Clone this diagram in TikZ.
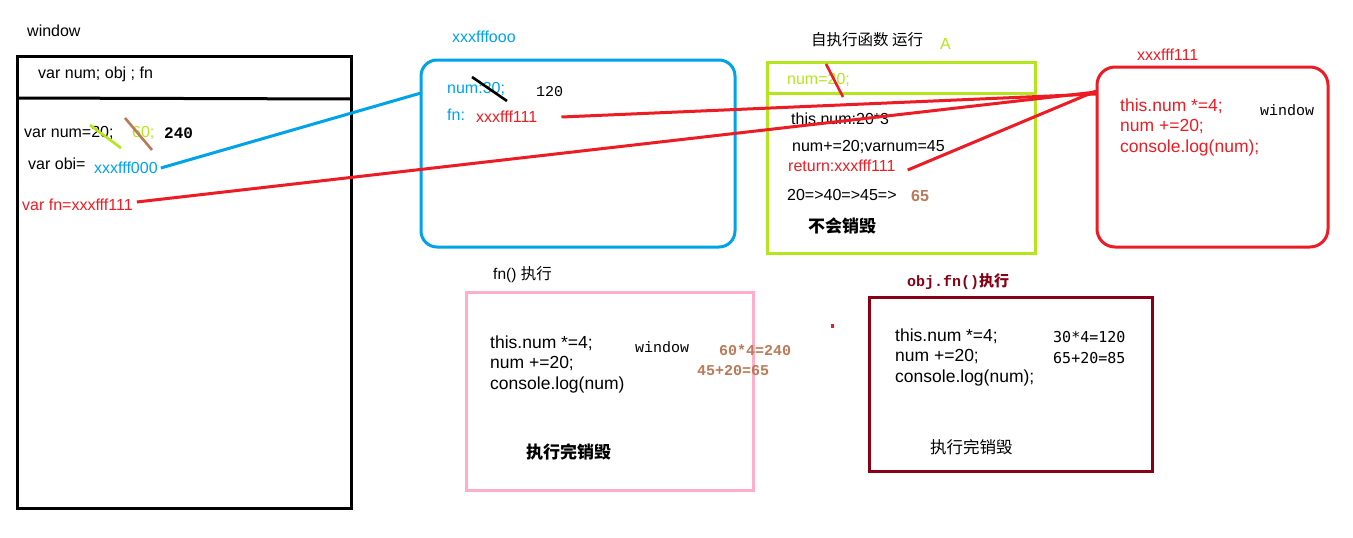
\documentclass[tikz,border=0pt]{standalone}
\usepackage{fontspec}
\setmainfont{Liberation Sans}
\newfontfamily\cjk{Noto Sans CJK SC}
\newfontfamily\smono{Liberation Mono}
\newfontfamily\dmono{DejaVu Sans Mono}
\definecolor{pblue}{HTML}{00A2E8}
\definecolor{pred}{HTML}{ED1C24}
\definecolor{pgreen}{HTML}{B5E61D}
\definecolor{pbrown}{HTML}{B97A57}
\definecolor{ppink}{HTML}{FFAEC9}
\definecolor{pdark}{HTML}{880015}
\tikzset{
  tx/.style={anchor=west, inner sep=0pt, font=\fontsize{16}{19}\selectfont},
  codetx/.style={anchor=west, inner sep=0pt, font=\fontsize{17.5}{21}\selectfont},
  cn/.style={anchor=west, inner sep=0pt, font=\fontsize{15.5}{19}\selectfont\cjk},
  cnb/.style={anchor=west, inner sep=0pt, font=\fontsize{17}{20}\selectfont\cjk\bfseries},
  monotx/.style={anchor=west, inner sep=0pt, font=\fontsize{15}{18}\selectfont\smono},
  brownb/.style={anchor=west, inner sep=0pt, text=pbrown, font=\fontsize{15}{18}\selectfont\smono\bfseries},
  thick3/.style={line width=3pt},
  strike/.style={line width=2.6pt},
}
\begin{document}
\begin{tikzpicture}[x=1pt,y=-1pt]
\useasboundingbox[fill=white] (0,0) rectangle (1353,538);

% ---------- window box ----------
\node[tx] (wlab) at (27,31) {window};
\draw[thick3] (17,56) rectangle (351,508);
\draw[thick3] (17,98) -- (351,99);
\node[tx] (decl) at (38,74) {var num; obj ; fn};
\node[tx] (vnum) at (24,133) {var num=20;};
\node[tx, text=pgreen] (v60) at (132,133) {60;};
\node[anchor=west, inner sep=0pt, font=\fontsize{16}{19}\selectfont\bfseries\smono] (v240) at (164,133) {240};
\draw[strike, pgreen] (90,125) -- (121,148);
\draw[strike, pbrown] (125,118) -- (152,150);
\node[tx] (vobj) at (28,164) {var obi=};
\node[tx, text=pblue] (objaddr) at (94,168) {xxxfff000};
\node[tx, text=pred] (vfn) at (22,205) {var fn=xxxfff111};

% ---------- blue heap box ----------
\node[tx, text=pblue] (blab) at (452,37) {xxxfffooo};
\draw[thick3, pblue, rounded corners=16pt] (421,60) rectangle (735,247);
\coordinate (bin) at (421,93);
\node[tx, text=pblue] (bnum) at (447,89) {num:30;};
\draw[strike, black] (472,77) -- (507,101);
\node[monotx] (b120) at (536,92) {120};
\node[tx, text=pblue] (bfn) at (447,115) {fn:};
\node[tx, text=pred] (bfnaddr) at (476,117) {xxxfff111};

% ---------- green box ----------
\node[cn] (glab) at (811,40) {自执行函数 运行};
\node[tx, text=pgreen] (gA) at (940,44) {A};
\draw[thick3, pgreen] (767,62) rectangle (1035,253);
\draw[thick3, pgreen] (767,93) -- (1035,93);
\node[tx, text=pgreen] (gnum) at (787,80) {num=20;};
\node[tx] (g1) at (791,119) {this.num:20*3};
\node[tx] (g2) at (792,147) {num+=20;varnum=45};
\node[tx, text=pred] (g3) at (788,166) {return:xxxfff111};
\node[tx] (g4) at (787,195) {20=>40=>45=>};
\node[anchor=west, inner sep=0pt, text=pbrown, font=\fontsize{16}{19}\selectfont\bfseries] (g65) at (911,196) {65};
\node[cnb] (gkeep) at (808,226) {不会销毁};
\draw[strike, pred] (826,64) -- (843,97);

% ---------- red function box ----------
\node[tx, text=pred] (rlab) at (1137,55) {xxxfff111};
\draw[thick3, pred, rounded corners=18pt] (1097,67) rectangle (1328,247);
\coordinate (rin) at (1096,92);
\node[codetx, text=pred] (r1) at (1120,106) {this.num *=4;};
\node[codetx, text=pred] (r2) at (1120,127) {num +=20;};
\node[codetx, text=pred] (r3) at (1120,148) {console.log(num);};
\node[monotx] (rwin) at (1260,110) {window};

% ---------- pink box ----------
\node[anchor=west, inner sep=0pt, font=\fontsize{15.5}{19}\selectfont] (plab) at (493,275) {fn() {\cjk 执行}};
\draw[thick3, ppink] (466,292) rectangle (753,490);
\node[codetx] (p1) at (490,343) {this.num *=4;};
\node[codetx] (p2) at (490,364) {num +=20;};
\node[codetx] (p3) at (490,385) {console.log(num)};
\node[monotx] (pwin) at (635,347) {window};
\node[brownb] (pc1) at (719,350) {60*4=240};
\node[brownb] (pc2) at (697,371) {45+20=65};
\node[cnb] (pdone) at (526,452) {执行完销毁};

% ---------- dark red box ----------
\node[anchor=west, inner sep=0pt, text=pdark, font=\fontsize{15}{18}\selectfont\smono\bfseries] (dlab) at (907,282) {obj.fn(){\cjk\bfseries 执行}};
\draw[thick3, pdark] (869,297) rectangle (1152,471);
\fill[pred] (831,324) rectangle (834,328);
\node[codetx] (d1) at (895,336) {this.num *=4;};
\node[codetx] (d2) at (895,357) {num +=20;};
\node[codetx] (d3) at (895,378) {console.log(num);};
\node[anchor=west, inner sep=0pt, font=\fontsize{15}{18}\selectfont\dmono] (dc1) at (1053,337) {30*4=120};
\node[anchor=west, inner sep=0pt, font=\fontsize{15}{18}\selectfont\dmono] (dc2) at (1053,358) {65+20=85};
\node[cn, font=\fontsize{16.5}{19}\selectfont\cjk] (ddone) at (930,447) {执行完销毁};

% ---------- connectors ----------
\draw[thick3, pblue] ([xshift=3pt]objaddr.east) -- (bin);
\draw[thick3, pred] ([xshift=4pt,yshift=3pt]vfn.east) -- (rin);
\draw[thick3, pred] ([xshift=24pt]bfnaddr.east) -- ([yshift=-2pt]rin);
\draw[thick3, pred] ([xshift=12pt,yshift=-4pt]g3.east) -- ([yshift=1pt]rin);
\end{tikzpicture}
\end{document}
